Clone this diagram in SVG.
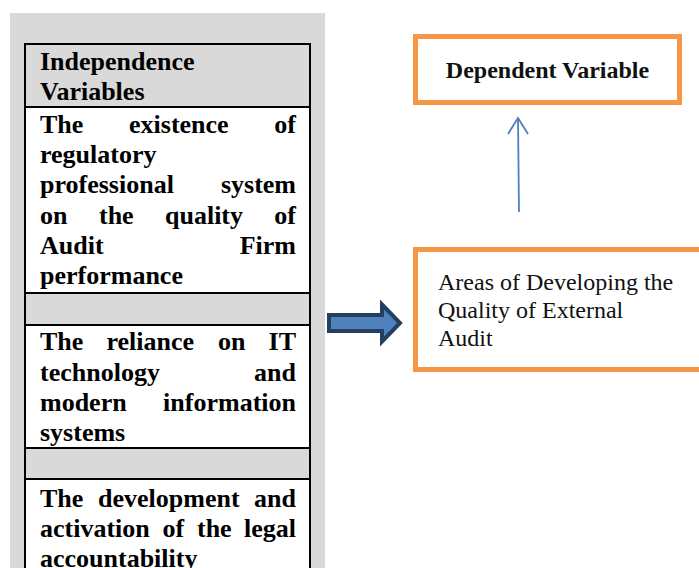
<svg xmlns="http://www.w3.org/2000/svg" width="699" height="568" viewBox="0 0 699 568">
<style>
text{font-family:"Liberation Serif","Times New Roman",Times,serif}
.b{font-weight:bold;font-size:26px;fill:#000}
.e{text-anchor:end}
.r{font-size:24px;fill:#111}
.ob{fill:#fff;stroke:#F79646;stroke-width:5}
.ln{stroke:#000;stroke-width:2}
</style>
<rect x="0" y="0" width="699" height="568" fill="#fff"/>
<g id="independent">
<rect x="10" y="13" width="315" height="560" fill="#D9D9D9"/>
<rect x="25" y="43" width="285" height="64" fill="#D9D9D9"/>
<rect x="25" y="107" width="285" height="186" fill="#fff"/>
<rect x="25" y="293" width="285" height="32" fill="#D9D9D9"/>
<rect x="25" y="325" width="285" height="123" fill="#fff"/>
<rect x="25" y="448" width="285" height="31" fill="#D9D9D9"/>
<rect x="25" y="479" width="285" height="95" fill="#fff"/>
<line class="ln" x1="25" y1="43" x2="25" y2="568"/>
<line class="ln" x1="310" y1="43" x2="310" y2="568"/>
<line class="ln" x1="24" y1="44" x2="311" y2="44"/>
<line class="ln" x1="24" y1="107" x2="311" y2="107"/>
<line class="ln" x1="24" y1="293" x2="311" y2="293"/>
<line class="ln" x1="24" y1="325" x2="311" y2="325"/>
<line class="ln" x1="24" y1="448" x2="311" y2="448"/>
<line class="ln" x1="24" y1="479" x2="311" y2="479"/>
<text class="b" x="40" y="70">Independence</text>
<text class="b" x="40" y="100">Variables</text>
<text class="b" x="40" y="133">The</text>
<text class="b" x="129" y="133">existence</text>
<text class="b e" x="296" y="133">of</text>
<text class="b" x="40" y="163">regulatory</text>
<text class="b" x="40" y="193">professional</text>
<text class="b e" x="296" y="193">system</text>
<text class="b" x="40" y="224">on</text>
<text class="b" x="99" y="224">the</text>
<text class="b" x="165" y="224">quality</text>
<text class="b e" x="296" y="224">of</text>
<text class="b" x="40" y="254">Audit</text>
<text class="b e" x="296" y="254">Firm</text>
<text class="b" x="40" y="284">performance</text>
<text class="b" x="40" y="350">The</text>
<text class="b" x="106.5" y="350">reliance</text>
<text class="b" x="218" y="350">on</text>
<text class="b e" x="296" y="350">IT</text>
<text class="b" x="40" y="381">technology</text>
<text class="b e" x="296" y="381">and</text>
<text class="b" x="40" y="411">modern</text>
<text class="b e" x="296" y="411">information</text>
<text class="b" x="40" y="441">systems</text>
<text class="b" x="40" y="507">The</text>
<text class="b" x="98" y="507">development</text>
<text class="b e" x="296" y="507">and</text>
<text class="b" x="40" y="537">activation</text>
<text class="b" x="162.5" y="537">of</text>
<text class="b" x="197" y="537">the</text>
<text class="b e" x="296" y="537">legal</text>
<text class="b" x="40" y="567">accountability</text>
</g>
<g id="dependent">
<rect class="ob" x="415.5" y="36.5" width="264" height="66"/>
<text class="r" x="547.5" y="78" text-anchor="middle" font-weight="bold" fill="#000">Dependent Variable</text>
</g>
<g id="areas">
<rect class="ob" x="415.5" y="249.5" width="300" height="120"/>
<text class="r" x="438" y="290">Areas of Developing the</text>
<text class="r" x="438" y="318">Quality of External</text>
<text class="r" x="438" y="346">Audit</text>
</g>
<g id="connectors">
<path d="M329,315 L382,315 L382,304.5 L400,323 L382,341.5 L382,331 L329,331 Z" fill="#4F81BD" stroke="#243F60" stroke-width="4" stroke-linejoin="miter"/>
<line x1="519" y1="212" x2="518" y2="118" stroke="#4F81BD" stroke-width="1.8"/>
<polyline points="508,134 518,118 528,134" fill="none" stroke="#4F81BD" stroke-width="1.8"/>
</g>
</svg>
